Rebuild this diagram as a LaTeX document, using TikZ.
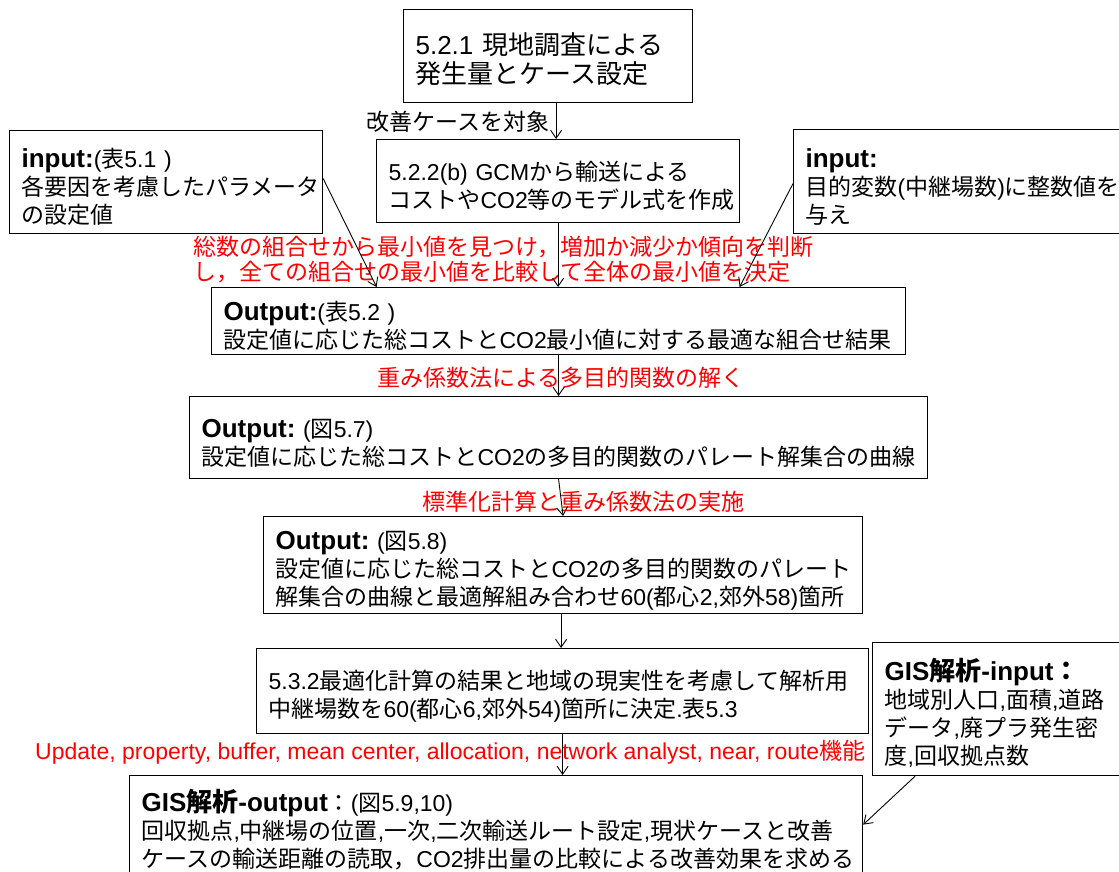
\documentclass[tikz,border=0pt]{standalone}
\usepackage{fontspec}
\usetikzlibrary{arrows.meta}
\setmainfont{Liberation Sans}
\newfontfamily\latfam{Liberation Sans}
\newfontfamily\cjkfam{Noto Sans CJK JP}
% automatic switch between Latin and Japanese fonts
\XeTeXinterchartokenstate=1
\newXeTeXintercharclass\CJKcls
\newcount\cjkc
\def\cjksetrange#1#2{\cjkc=#1\relax
  \loop\XeTeXcharclass\cjkc=\CJKcls\relax
  \ifnum\cjkc<#2\advance\cjkc by 1\repeat}
\cjksetrange{"3000}{"30FF}
\cjksetrange{"4E00}{"9FFF}
\cjksetrange{"FF00}{"FFEF}
\XeTeXinterchartoks 0 \CJKcls = {\cjkfam}
\XeTeXinterchartoks 4095 \CJKcls = {\cjkfam}
\XeTeXinterchartoks \CJKcls 0 = {\latfam}
\XeTeXinterchartoks \CJKcls 4095 = {\latfam}
\newcommand\hdrtxt[1]{{\fontsize{26}{28}\selectfont\bfseries #1}}
\tikzset{
  box/.style={draw, line width=1.2pt, rectangle, anchor=north west,
    inner xsep=12pt, inner ysep=0pt, align=left,
    font=\fontsize{23}{28}\selectfont},
  pushdown/.style={execute at begin node={\rule{0pt}{29pt}}},
  lbl/.style={inner sep=0pt, align=left, font=\fontsize{23}{25}\selectfont},
  redlbl/.style={lbl, text=red},
  arr/.style={-{Straight Barb[length=8pt,width=11pt]}, line width=0.9pt}
}
\begin{document}
\begin{tikzpicture}[x=1pt,y=-1pt]
\path[fill=white, use as bounding box] (0,0) rectangle (1119,871);

% boxes
\node[box, pushdown, text width=265pt, minimum height=93pt, font=\fontsize{26}{29}\selectfont] (A) at (403,9)
  {5.2.1~現地調査による\\発生量とケース設定};
\node[box, pushdown, text width=339pt, minimum height=83pt] (B) at (376,139)
  {5.2.2(b)~GCMから輸送による\\コストやCO2等のモデル式を作成};
\node[box, pushdown, text width=289pt, minimum height=103pt] (C) at (9,130)
  {\hdrtxt{input:}(表5.1~)\\各要因を考慮したパラメータ\\の設定値};
\node[box, pushdown, text width=318pt, minimum height=104pt] (D) at (793,129)
  {\hdrtxt{input:}\\目的変数(中継場数)に整数値を\\与え};
\node[box, pushdown, text width=670pt, minimum height=67pt] (E) at (211,287)
  {\hdrtxt{Output:}(表5.2~)\\設定値に応じた総コストとCO2最小値に対する最適な組合せ結果};
\node[box, pushdown, text width=714pt, minimum height=82pt] (F) at (189,396)
  {\hdrtxt{Output:}~(図5.7)\\設定値に応じた総コストとCO2の多目的関数のパレート解集合の曲線};
\node[box, pushdown, text width=575pt, minimum height=97pt] (G) at (263,516)
  {\hdrtxt{Output:}~(図5.8)\\設定値に応じた総コストとCO2の多目的関数のパレート\\解集合の曲線と最適解組み合わせ60(都心2,郊外58)箇所};
\node[box, pushdown, text width=588pt, minimum height=85pt] (H) at (256,648)
  {5.3.2最適化計算の結果と地域の現実性を考慮して解析用\\中継場数を60(都心6,郊外54)箇所に決定.表5.3};
\node[box, text width=709pt, minimum height=108pt] (I) at (129,775)
  {\hdrtxt{GIS解析-output}：(図5.9,10)\\回収拠点,中継場の位置,一次,二次輸送ルート設定,現状ケースと改善\\ケースの輸送距離の読取，CO2排出量の比較による改善効果を求める};
\node[box, pushdown, text width=239pt, minimum height=133pt] (J) at (872,642)
  {\hdrtxt{GIS解析-input：}\\地域別人口,面積,道路\\データ,廃プラ発生密\\度,回収拠点数};

% labels
\node[lbl, anchor=east] (t1) at (550,122) {改善ケースを対象};
\node[redlbl, anchor=west] (t2) at (193,259.5)
  {総数の組合せから最小値を見つけ，増加か減少か傾向を判断\\し，全ての組合せの最小値を比較して全体の最小値を決定};
\node[redlbl, anchor=west] (t3) at (377,378) {重み係数法による多目的関数の解く};
\node[redlbl, anchor=west] (t4) at (422,502) {標準化計算と重み係数法の実施};
\node[redlbl, anchor=west] (t5) at (35,752)
  {Update, property, buffer, mean center, allocation, network analyst, near, route機能};

% connectors
\draw[arr] ([xshift=8pt]A.south) -- ([xshift=8pt]A.south |- B.north);
\draw[arr] ([yshift=3.5pt]C.east) -- ([xshift=-182pt]E.north);
\draw[arr] (B.south) -- (B.south |- E.north);
\draw[arr] ([yshift=-2pt]D.west) -- ([xshift=181pt]E.north);
\draw[arr] (E.south) -- (E.south |- F.north);
\draw[arr] (F.south) -- (G.north);
\draw[arr] ([xshift=-2pt]G.south) -- ([xshift=-2pt]G.south |- H.north);
\draw[arr] (H.south) -- (H.south |- I.north);
\draw[arr] ([xshift=-89pt]J.south) -- ([yshift=5pt]I.east);
\end{tikzpicture}
\end{document}
